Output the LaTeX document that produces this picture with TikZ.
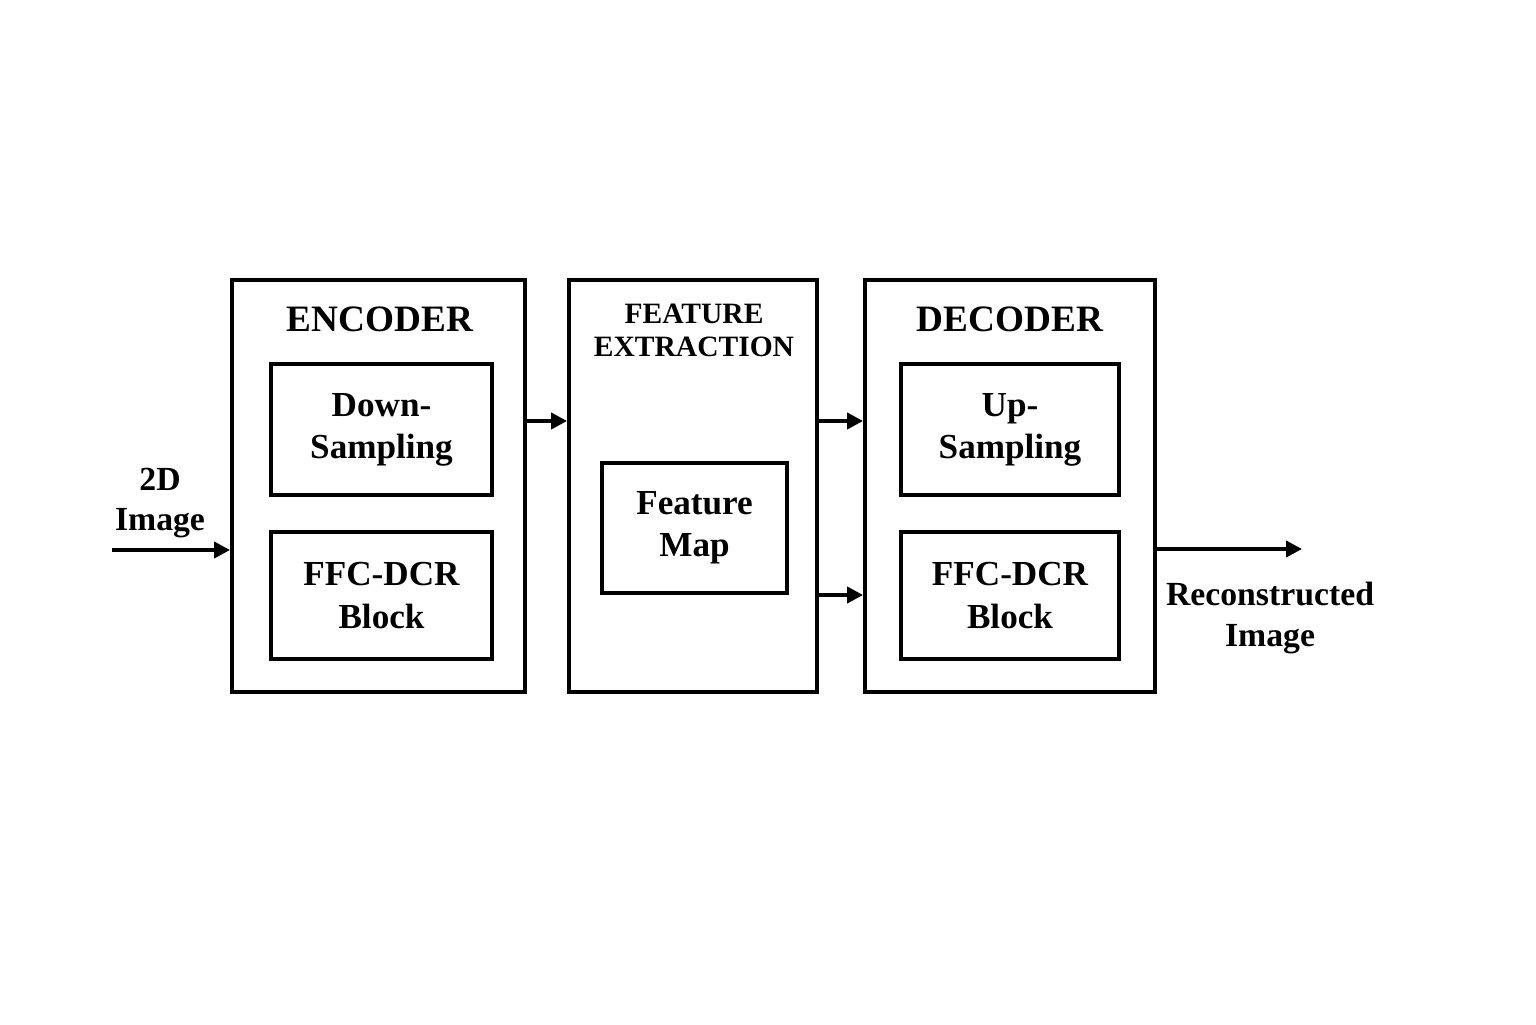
\documentclass[tikz,border=0pt]{standalone}
\usepackage{fontspec}
\setmainfont{Liberation Serif}
\usetikzlibrary{arrows.meta,positioning,calc}

\tikzset{
    outerbox/.style={draw, line width=1.1pt, minimum width=#1, minimum height=4.12cm, inner sep=0pt},
    innerbox/.style={draw, line width=1.1pt, align=center, inner sep=0pt,
                     font=\fontsize{10pt}{12pt}\selectfont\bfseries},
    title/.style={font=\fontsize{10.6pt}{12pt}\selectfont\bfseries},
    flowlabel/.style={align=center, font=\fontsize{9.6pt}{11.4pt}\selectfont\bfseries},
    arr/.style={line width=1.1pt, -{Triangle[length=1.6mm,width=1.6mm]}}
}

\begin{document}
\begin{tikzpicture}
    % page size
    \useasboundingbox (0,0) rectangle (15.36,10.24);

    % the three stages
    \node[outerbox=2.93cm] (enc) at (3.785,5.38) {};
    \node[outerbox=2.48cm] (fex) at (6.93,5.38) {};
    \node[outerbox=2.90cm] (dec) at (10.10,5.38) {};

    % titles
    \node[title] (enctitle) at (3.80,7.05) {ENCODER};
    \node[title, align=center, font=\fontsize{8.4pt}{9.4pt}\selectfont\bfseries] (fextitle) at (6.94,6.94) {FEATURE\\EXTRACTION};
    \node[title] (dectitle) at (10.10,7.05) {DECODER};

    % blocks inside the encoder
    \node[innerbox, minimum width=2.21cm, minimum height=1.31cm] (down) at (3.815,5.945) {Down-\\Sampling};
    \node[innerbox, minimum width=2.21cm, minimum height=1.27cm] (encffc) at (3.815,4.285) {FFC-DCR\\Block};

    % block inside the feature extraction
    \node[innerbox, minimum width=1.85cm, minimum height=1.30cm] (fmap) at (6.945,4.96) {Feature\\Map};

    % blocks inside the decoder
    \node[innerbox, minimum width=2.18cm, minimum height=1.31cm] (up) at (10.10,5.945) {Up-\\Sampling};
    \node[innerbox, minimum width=2.18cm, minimum height=1.27cm] (decffc) at (10.10,4.285) {FFC-DCR\\Block};

    % input and output
    \coordinate (imgin) at (1.12,4.74);
    \coordinate (imgout) at (13.02,4.75);
    \node[flowlabel] (inlabel) at (1.60,5.21) {2D\\Image};
    \node[flowlabel] (outlabel) at (12.70,4.06) {Reconstructed\\Image};

    % arrows
    \draw[arr] (imgin) -- (imgin -| enc.west);
    \draw[arr] ($(enc.east)+(0,0.65)$) -- ($(fex.west)+(0,0.65)$);
    \draw[arr] ($(fex.east)+(0,0.65)$) -- ($(dec.west)+(0,0.65)$);
    \draw[arr] ($(fex.east)+(0,-1.09)$) -- ($(dec.west)+(0,-1.09)$);
    \draw[arr] (imgout -| dec.east) -- (imgout);
\end{tikzpicture}
\end{document}
